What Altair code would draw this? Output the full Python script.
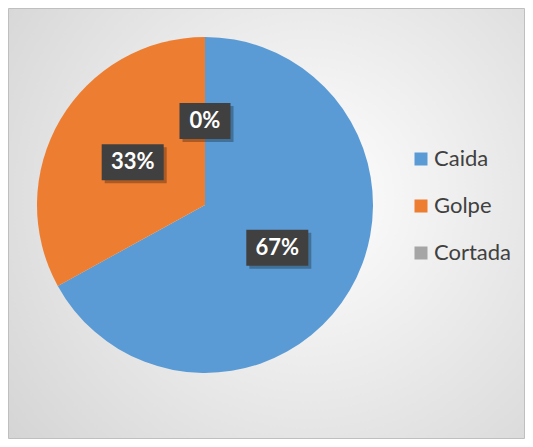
import altair as alt
import pandas as pd

categories = ["Caida", "Golpe", "Cortada"]
values = [67, 33, 0]
labels = ["67%", "33%", "0%"]
colors = ["#5B9BD5", "#ED7D31", "#A5A5A5"]
order = [0, 1, 2]

df = pd.DataFrame({"cat": categories, "value": values, "label": labels, "order": order})

CX, CY, R, LR = 197, 197, 168, 84
W, H = 517, 431

bg = alt.Chart(pd.DataFrame({"a": [0]})).mark_rect(
    fill=alt.RadialGradient(
        gradient="radial", x1=0.58, y1=0.45, r1=0, x2=0.58, y2=0.45, r2=0.75,
        stops=[alt.GradientStop(offset=0, color="#ffffff"),
               alt.GradientStop(offset=1, color="#d4d4d4")]),
    stroke="#bfbfbf", strokeWidth=1,
).encode(x=alt.value(0.5), x2=alt.value(W - 0.5), y=alt.value(0.5), y2=alt.value(H - 0.5))

base = alt.Chart(df)

pie = base.mark_arc(outerRadius=R).encode(
    theta=alt.Theta("value:Q", stack=True),
    color=alt.Color(
        "cat:N",
        scale=alt.Scale(domain=categories, range=colors),
        legend=alt.Legend(
            title=None, orient="none", legendX=402, legendY=140,
            symbolType="square", symbolSize=169, symbolStrokeWidth=0,
            labelFontSize=22, labelFont="Lato", labelColor="#404040",
            rowPadding=25, labelOffset=2,
        ),
    ),
    order=alt.Order("order:Q"),
)

pos = base.transform_joinaggregate(total="sum(value)").transform_window(
    cum="sum(value)", sort=[alt.SortField("order")], frame=[None, 0]
).transform_calculate(
    mid="(datum.cum - datum.value/2)/datum.total*2*PI",
).transform_calculate(
    px=f"{CX} + {LR}*sin(datum.mid)",
    py=f"{CY} - {LR}*cos(datum.mid)",
    bw="11*length(datum.label)+29",
).transform_calculate(
    bx1="datum.px - datum.bw/2",
    bx2="datum.px + datum.bw/2",
    by1="datum.py - 18",
    by2="datum.py + 18",
    sx1="datum.px - datum.bw/2 + 3",
    sx2="datum.px + datum.bw/2 + 3",
    sy1="datum.py - 18 + 3",
    sy2="datum.py + 18 + 3",
)

shadow = pos.mark_rect(fill="#000000", opacity=0.28).encode(
    x=alt.X("sx1:Q", scale=None), x2="sx2:Q",
    y=alt.Y("sy1:Q", scale=None), y2="sy2:Q",
)

box = pos.mark_rect(fill="#404040").encode(
    x=alt.X("bx1:Q", scale=None), x2="bx2:Q",
    y=alt.Y("by1:Q", scale=None), y2="by2:Q",
)

text = pos.mark_text(
    font="Lato", fontSize=22, fontWeight="bold", color="white",
    baseline="middle", align="center",
).encode(
    x=alt.X("px:Q", scale=None), y=alt.Y("py:Q", scale=None), text="label:N",
)

chart = alt.layer(bg, pie, shadow, box, text).properties(
    width=394, height=394,
    padding={"left": 0, "top": 0, "right": W - 394, "bottom": H - 394},
    autosize="none",
    background="white",
).configure_view(stroke=None)

chart.save("out.html", embed_options={"renderer": "svg", "actions": False})
